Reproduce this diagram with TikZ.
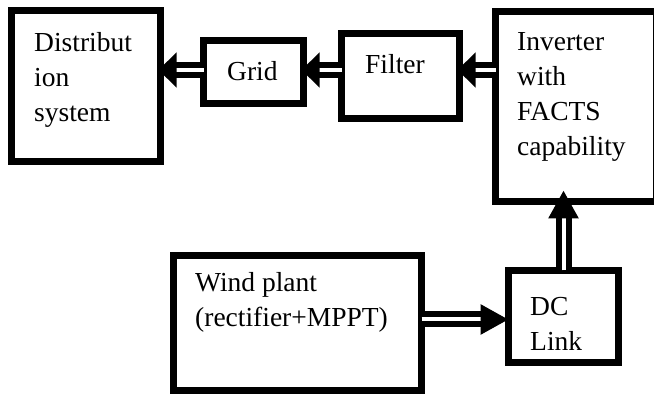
\documentclass[tikz,border=0pt]{standalone}
\usepackage{fontspec}
\setmainfont{Liberation Serif}
\usepackage{tikz}
\usetikzlibrary{arrows.meta, positioning}
\tikzset{
  block/.style={rectangle, draw=black, line width=6.5pt, outer sep=0pt,
    inner sep=0pt},
  lbl/.style={inner sep=0pt, align=left, font=\fontsize{27.5}{35}\selectfont},
  dblarrow/.style={draw=black, double=white, double distance=4pt,
    line width=6pt, -{Triangle[length=18pt, width=34pt]}},
  dblarrowb/.style={draw=black, double=white, double distance=4pt,
    line width=6pt, -{Triangle[length=28pt, width=29pt]}}
}

\begin{document}
\begin{tikzpicture}[x=1pt, y=1pt]
  \useasboundingbox (0,0) rectangle (654,394);

  % Blocks
  \node[block, minimum width=149pt, minimum height=151pt] (dist) at (86,308) {};
  \node[block, minimum width=100pt, minimum height=63pt] (grid) at (253.5,322) {};
  \node[block, minimum width=118pt, minimum height=85pt] (filter) at (400.5,318) {};
  \node[block, minimum width=160.5pt, minimum height=190pt] (inv) at (575.75,287.5) {};
  \node[block, minimum width=248pt, minimum height=135pt] (wind) at (297.5,71) {};
  \node[block, minimum width=110pt, minimum height=92pt] (dc) at (563.5,77.5) {};

  % Block texts
  \node[lbl, below right=21.7pt and 22.5pt of dist.north west] (distT) {Distribut\\ion\\system};
  \node[lbl, below right=20.5pt and 23.5pt of grid.north west] (gridT) {Grid};
  \node[lbl, below right=21pt and 23.5pt of filter.north west] (filterT) {Filter};
  \node[lbl, below right=20.5pt and 21.5pt of inv.north west] (invT) {Inverter\\with\\FACTS\\capability};
  \node[lbl, below right=17pt and 21.5pt of wind.north west] (windT) {Wind plant\\(rectifier+MPPT)};
  \node[lbl, below right=26.5pt and 21.5pt of dc.north west] (dcT) {DC\\Link};

  % Power flow
  \coordinate (toprow) at (0,324);
  \coordinate (lowrow) at (0,74.5);
  \draw[dblarrow, shorten >=-2pt] (grid.west |- toprow) -- (dist.east |- toprow);
  \draw[dblarrow, shorten >=-2pt] (filter.west |- toprow) -- (grid.east |- toprow);
  \draw[dblarrow, shorten >=-2pt] (inv.west |- toprow) -- (filter.east |- toprow);
  \draw[dblarrowb] (wind.east |- lowrow) -- (dc.west |- lowrow);
  \draw[dblarrowb, shorten >=-11pt] (dc.north) -- (dc.north |- inv.south);
\end{tikzpicture}
\end{document}
